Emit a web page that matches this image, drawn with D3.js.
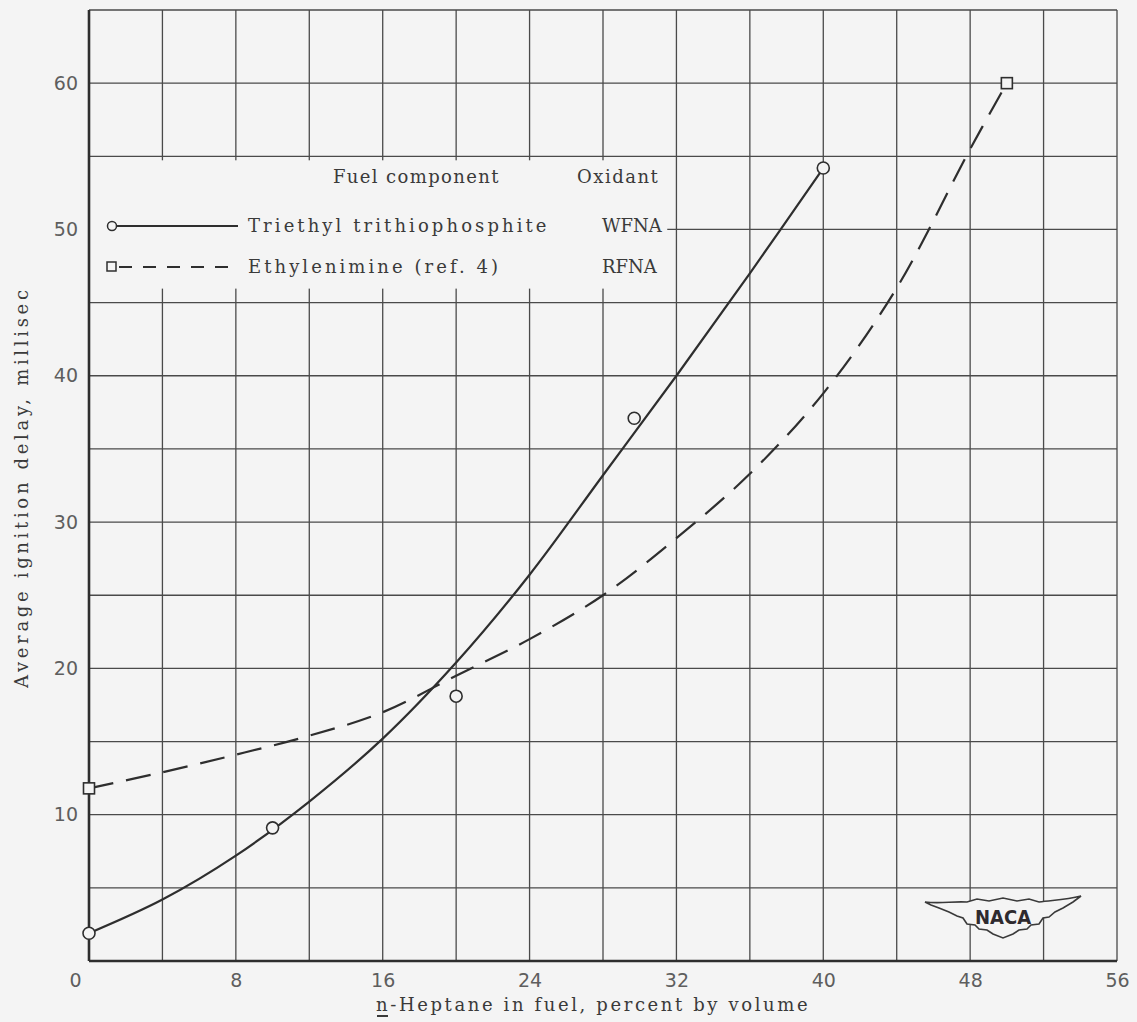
<!DOCTYPE html>
<html>
<head>
<meta charset="utf-8">
<script src="https://cdn.jsdelivr.net/npm/d3@7/dist/d3.min.js"></script>
<style>
  body { margin: 0; background: #f4f4f4; }
  svg { display: block; }
  .type { font-family: "DejaVu Serif", "Liberation Serif", serif; font-size: 18px; fill: #3a3a3a; }
  .tick-label { font-family: "DejaVu Sans", sans-serif; font-size: 19px; fill: #5e5e5e; }
</style>
</head>
<body>
<div id="chart"></div>
<script>
var svgWidth = 1137;
var svgHeight = 1022;
var bg = "#f4f4f4";
var ink = "#2e2e2e";

// tick labels
var xTicks = [0, 8, 16, 24, 32, 40, 48, 56];
var yTicks = [10, 20, 30, 40, 50, 60];

// measured points, triethyl trithiophosphite / WFNA
var tripX = [0, 10, 20, 29.7, 40];
var tripY = [1.9, 9.1, 18.1, 37.1, 54.2];

// faired curve through them
var tripCurveX = [0, 4, 8, 12, 16, 20, 24, 28, 32, 36, 40];
var tripCurveY = [1.9, 4.2, 7.2, 10.9, 15.2, 20.4, 26.4, 33.2, 40.0, 47.0, 54.2];

// ethylenimine / RFNA (ref. 4)
var ethX = [0, 50];
var ethY = [11.8, 60];
var ethCurveX = [0, 4, 8, 12, 16, 20, 24, 28, 32, 36, 40, 44, 48, 50];
var ethCurveY = [11.8, 12.9, 14.1, 15.4, 17.0, 19.5, 22.0, 25.0, 28.9, 33.3, 38.8, 46.0, 55.5, 60];

var margin = {top: 10, right: 20, bottom: 61, left: 89};
var width = svgWidth - margin.left - margin.right;
var height = svgHeight - margin.top - margin.bottom;

var svg = d3.select("#chart").append("svg")
  .attr("width", svgWidth)
  .attr("height", svgHeight);

svg.append("rect").attr("width", svgWidth).attr("height", svgHeight).attr("fill", bg);

var chartGroup = svg.append("g")
  .attr("transform", "translate(" + margin.left + "," + margin.top + ")");

var xScale = d3.scaleLinear().domain([0, 56]).range([0, width]);
var yScale = d3.scaleLinear().domain([0, 65]).range([height, 0]);

// grid (graph paper)
var xGrid = d3.range(4, 57, 4);
var yGrid = d3.range(5, 66, 5);

chartGroup.selectAll(".vgrid").data(xGrid).enter().append("line")
  .attr("class", "vgrid")
  .attr("x1", function(d) { return xScale(d); })
  .attr("x2", function(d) { return xScale(d); })
  .attr("y1", 0).attr("y2", height)
  .attr("stroke", "#4a4a4a").attr("stroke-width", 1.3);

chartGroup.selectAll(".hgrid").data(yGrid).enter().append("line")
  .attr("class", "hgrid")
  .attr("x1", 0).attr("x2", width)
  .attr("y1", function(d) { return yScale(d); })
  .attr("y2", function(d) { return yScale(d); })
  .attr("stroke", "#4a4a4a").attr("stroke-width", 1.3);

// blank panel for the key
chartGroup.append("rect")
  .attr("x", 1).attr("y", yScale(55) + 4)
  .attr("width", xScale(31.5) - 1)
  .attr("height", yScale(45) - yScale(55) - 18)
  .attr("fill", bg);

// axes
var bottomAxis = d3.axisBottom(xScale).tickValues(xTicks).tickSize(0).tickPadding(13);
var leftAxis = d3.axisLeft(yScale).tickValues(yTicks).tickSize(0).tickPadding(11);

var gx = chartGroup.append("g").attr("transform", "translate(0," + height + ")").call(bottomAxis);
var gy = chartGroup.append("g").call(leftAxis);

[gx, gy].forEach(function(g) {
  g.select(".domain").remove();
  g.selectAll("text").attr("class", "tick-label").attr("fill", null);
});
gx.selectAll(".tick").filter(function(d) { return d === 0; }).select("text").attr("dx", -14);

chartGroup.append("line").attr("x1", 0).attr("x2", 0).attr("y1", 0).attr("y2", height)
  .attr("stroke", ink).attr("stroke-width", 2.6);
chartGroup.append("line").attr("x1", 0).attr("x2", width).attr("y1", height).attr("y2", height)
  .attr("stroke", ink).attr("stroke-width", 2.6);

// curves
var line = d3.line()
  .x(function(d) { return xScale(d[0]); })
  .y(function(d) { return yScale(d[1]); })
  .curve(d3.curveCatmullRom.alpha(0.5));

chartGroup.append("path")
  .datum(d3.zip(tripCurveX, tripCurveY))
  .attr("d", line)
  .attr("fill", "none").attr("stroke", ink).attr("stroke-width", 2.2);

chartGroup.append("path")
  .datum(d3.zip(ethCurveX, ethCurveY))
  .attr("d", line)
  .attr("fill", "none").attr("stroke", ink).attr("stroke-width", 2.2)
  .attr("stroke-dasharray", "25,13");

chartGroup.selectAll(".trip").data(d3.zip(tripX, tripY)).enter().append("circle")
  .attr("class", "trip")
  .attr("cx", function(d) { return xScale(d[0]); })
  .attr("cy", function(d) { return yScale(d[1]); })
  .attr("r", 6)
  .attr("fill", bg).attr("stroke", ink).attr("stroke-width", 1.6);

chartGroup.selectAll(".eth").data(d3.zip(ethX, ethY)).enter().append("rect")
  .attr("class", "eth")
  .attr("x", function(d) { return xScale(d[0]) - 5.5; })
  .attr("y", function(d) { return yScale(d[1]) - 5.5; })
  .attr("width", 11).attr("height", 11)
  .attr("fill", bg).attr("stroke", ink).attr("stroke-width", 1.6);

// typewriter text: fixed pitch, ~12.1px per character
function typed(g, x, y, str) {
  var t = g.append("text").attr("class", "type")
    .attr("x", x).attr("y", y)
    .text(str);
  if (str.length > 6) {
    t.attr("textLength", str.length * 12.1 - 4).attr("lengthAdjust", "spacing");
  }
  return t;
}

// key
var key = svg.append("g");
typed(key, 333, 183, "Fuel component");
typed(key, 577, 183, "Oxidant");

key.append("circle").attr("cx", 112).attr("cy", 226).attr("r", 4.5)
  .attr("fill", bg).attr("stroke", ink).attr("stroke-width", 1.5);
key.append("line").attr("x1", 117).attr("x2", 238).attr("y1", 226).attr("y2", 226)
  .attr("stroke", ink).attr("stroke-width", 2);
typed(key, 248, 232, "Triethyl trithiophosphite");
typed(key, 602, 232, "WFNA");

key.append("rect").attr("x", 107).attr("y", 262).attr("width", 9).attr("height", 9)
  .attr("fill", bg).attr("stroke", ink).attr("stroke-width", 1.5);
key.append("line").attr("x1", 119).attr("x2", 238).attr("y1", 267).attr("y2", 267)
  .attr("stroke", ink).attr("stroke-width", 2).attr("stroke-dasharray", "13,11");
typed(key, 248, 273, "Ethylenimine (ref. 4)");
typed(key, 602, 273, "RFNA");

// axis titles
typed(svg, 376, 1011, "n-Heptane in fuel, percent by volume");
svg.append("line").attr("x1", 377).attr("x2", 388).attr("y1", 1016).attr("y2", 1016)
  .attr("stroke", "#3a3a3a").attr("stroke-width", 2);

var ytStr = "Average ignition delay, millisec";
var yt = svg.append("g").attr("transform", "translate(28,688) rotate(-90)");
typed(yt, 0, 0, ytStr).attr("textLength", 398);

// NACA wings
var logo = svg.append("g").attr("transform", "translate(1003,916)");
logo.append("path")
  .attr("d", "M-78,-14 C-62,-12 -50,-15 -36,-14 L-26,-17 L-14,-15 L0,-18 L14,-15 L26,-17 L36,-14 " +
             "C50,-16 62,-16 78,-20 L70,-14 L60,-8 L52,-4 L46,1 L40,2 L36,8 L28,9 L24,13 L16,14 L10,18 L0,22 " +
             "L-10,18 L-16,14 L-24,13 L-28,9 L-36,8 L-40,2 L-46,0 L-54,-4 L-64,-8 L-72,-11 Z")
  .attr("fill", bg).attr("stroke", "#3a3a3a").attr("stroke-width", 1.6);
logo.append("text").attr("x", 0).attr("y", 8).attr("text-anchor", "middle")
  .style("font-family", "'DejaVu Sans Condensed', 'DejaVu Sans', sans-serif").style("font-size", "20px")
  .style("font-weight", "bold").attr("fill", "#2e2a2e").text("NACA");
</script>
</body>
</html>
